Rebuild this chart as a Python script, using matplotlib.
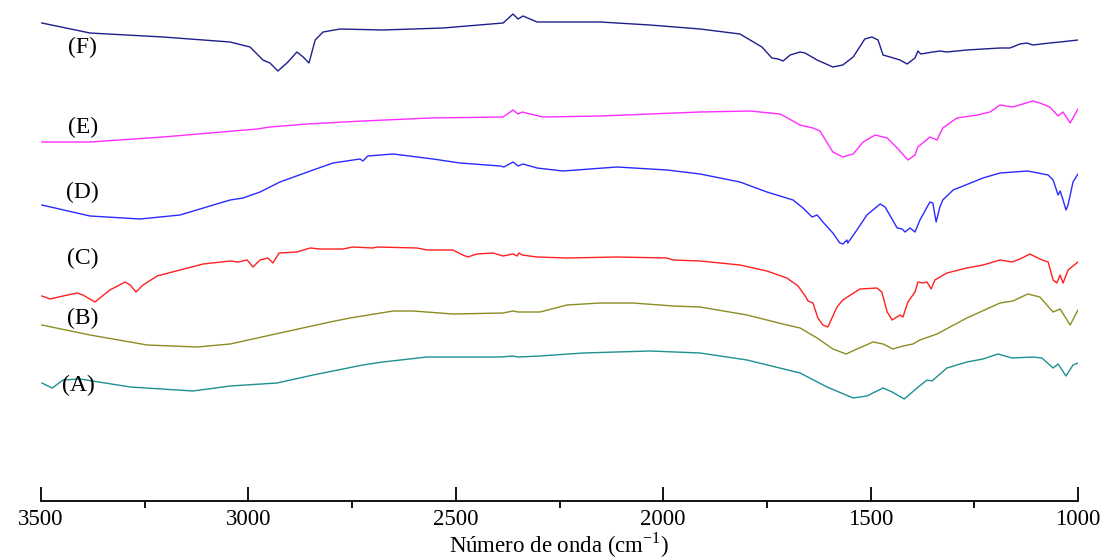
import matplotlib
matplotlib.use("Agg")
import matplotlib.pyplot as plt
from matplotlib.ticker import MultipleLocator

plt.rcParams["font.family"] = ["Liberation Serif", "DejaVu Serif"]
plt.rcParams["mathtext.fontset"] = "custom"
plt.rcParams["mathtext.rm"] = "Liberation Serif"

# FTIR spectra: (wavenumber cm^-1, offset transmittance, arbitrary units)
spec_A = [(3498, 118), (3473, 113), (3447, 121), (3406, 122), (3285, 114), (3134, 110),
          (3044, 115), (2931, 118), (2844, 126), (2724, 136), (2676, 139), (2569, 144),
          (2393, 144), (2362, 145), (2350, 144), (2297, 145), (2193, 148), (2032, 150),
          (1911, 148), (1798, 141), (1670, 128), (1605, 114), (1542, 103), (1509, 105),
          (1470, 113), (1448, 109), (1419, 102), (1388, 113), (1364, 121), (1352, 120),
          (1316, 133), (1268, 139), (1229, 142), (1193, 147), (1159, 143), (1109, 144),
          (1087, 143), (1060, 133), (1048, 137), (1029, 125), (1012, 136), (1000, 138)]

spec_B = [(3498, 176), (3382, 166), (3244, 156), (3124, 154), (3044, 157), (2924, 168),
          (2803, 179), (2755, 183), (2651, 190), (2603, 190), (2507, 187), (2386, 188),
          (2362, 190), (2350, 189), (2297, 189), (2232, 196), (2152, 198), (2073, 198),
          (1976, 195), (1911, 194), (1798, 186), (1702, 176), (1670, 173), (1629, 163),
          (1591, 152), (1559, 147), (1533, 152), (1494, 159), (1470, 157), (1446, 152),
          (1422, 155), (1398, 157), (1381, 161), (1340, 167), (1268, 183), (1188, 198),
          (1157, 200), (1121, 207), (1092, 204), (1060, 189), (1043, 192), (1019, 176),
          (1000, 191)]

spec_C = [(3498, 205), (3478, 202), (3447, 205), (3413, 208), (3399, 206), (3370, 199),
          (3334, 211), (3297, 219), (3285, 216), (3271, 209), (3254, 216), (3220, 225),
          (3165, 231), (3109, 237), (3044, 240), (3025, 239), (3003, 241), (2989, 234),
          (2972, 241), (2953, 243), (2941, 238), (2926, 248), (2883, 249), (2851, 253),
          (2827, 252), (2772, 252), (2748, 254), (2700, 253), (2690, 254), (2594, 253),
          (2569, 251), (2507, 251), (2483, 246), (2471, 244), (2449, 247), (2410, 248),
          (2386, 245), (2362, 247), (2352, 245), (2348, 248), (2340, 246), (2304, 244),
          (2232, 243), (2111, 244), (1991, 243), (1976, 241), (1911, 240), (1815, 236),
          (1750, 230), (1702, 223), (1675, 215), (1656, 204), (1651, 200), (1639, 198),
          (1627, 183), (1615, 176), (1603, 174), (1581, 194), (1567, 201), (1526, 212),
          (1485, 213), (1473, 209), (1460, 189), (1448, 181), (1429, 186), (1422, 184),
          (1410, 199), (1393, 209), (1386, 219), (1374, 218), (1364, 219), (1354, 212),
          (1345, 221), (1316, 228), (1268, 233), (1229, 236), (1188, 241), (1159, 239),
          (1140, 242), (1116, 247), (1092, 242), (1072, 239), (1060, 221), (1051, 218),
          (1043, 226), (1036, 218), (1024, 231), (1000, 239)]

spec_D = [(3498, 296), (3382, 285), (3261, 282), (3165, 286), (3044, 301), (3013, 303),
          (2972, 309), (2924, 319), (2844, 331), (2796, 338), (2731, 342), (2724, 340),
          (2712, 345), (2651, 347), (2555, 342), (2490, 338), (2393, 335), (2384, 334),
          (2362, 339), (2350, 335), (2338, 337), (2304, 333), (2242, 330), (2111, 334),
          (1991, 331), (1911, 327), (1815, 319), (1750, 309), (1687, 301), (1663, 293),
          (1641, 284), (1629, 286), (1615, 279), (1591, 268), (1574, 258), (1567, 257),
          (1557, 261), (1555, 258), (1533, 271), (1509, 286), (1477, 297), (1465, 294),
          (1436, 273), (1424, 272), (1417, 269), (1405, 273), (1393, 269), (1381, 281),
          (1357, 299), (1350, 298), (1342, 279), (1333, 294), (1326, 301), (1301, 311),
          (1229, 323), (1188, 328), (1121, 330), (1072, 326), (1060, 321), (1048, 306),
          (1043, 310), (1036, 301), (1029, 291), (1024, 296), (1012, 319), (1000, 327)]

spec_E = [(3498, 359), (3382, 359), (3206, 364), (2979, 372), (2948, 374), (2859, 377),
          (2724, 380), (2562, 383), (2386, 384), (2362, 391), (2350, 387), (2340, 389),
          (2321, 387), (2290, 384), (2152, 385), (1911, 389), (1791, 390), (1718, 387),
          (1670, 376), (1639, 373), (1622, 370), (1591, 349), (1567, 344), (1542, 347),
          (1518, 359), (1489, 366), (1460, 363), (1436, 353), (1410, 341), (1393, 346),
          (1386, 354), (1357, 364), (1340, 361), (1326, 373), (1292, 383), (1243, 386),
          (1212, 389), (1188, 396), (1157, 394), (1109, 400), (1092, 398), (1068, 394),
          (1048, 385), (1036, 389), (1019, 378), (1000, 392)]

spec_F = [(3498, 478), (3382, 468), (3206, 464), (3044, 459), (2996, 454), (2965, 441),
          (2948, 438), (2929, 430), (2907, 438), (2883, 449), (2868, 444), (2854, 438),
          (2839, 461), (2820, 469), (2779, 472), (2676, 471), (2531, 473), (2386, 478),
          (2362, 487), (2350, 482), (2338, 485), (2304, 479), (2232, 479), (2152, 479),
          (2032, 476), (1911, 472), (1815, 467), (1762, 454), (1738, 443), (1723, 442),
          (1711, 440), (1694, 446), (1670, 449), (1658, 448), (1629, 441), (1591, 434),
          (1567, 436), (1542, 444), (1514, 462), (1497, 464), (1482, 461), (1470, 446),
          (1453, 444), (1429, 441), (1412, 437), (1393, 443), (1386, 450), (1379, 447),
          (1350, 449), (1333, 450), (1316, 449), (1268, 451), (1188, 453), (1164, 453),
          (1140, 457), (1123, 458), (1109, 456), (1068, 458), (1043, 459), (1000, 461)]

sample_names = ["(A)", "(B)", "(C)", "(D)", "(E)", "(F)"]
line_colors = ["#1f8f8f", "#8c8c22", "#ff2020", "#2a2aff", "#ff2cff", "#1e1e8c"]
label_wn = [3410, 3400, 3400, 3400, 3398, 3399]
label_y = [116, 183, 243, 309, 374, 454]

fig = plt.figure(figsize=(11.1, 5.6), dpi=100)
ax = fig.add_axes([0.03694, 0.10536, 0.93423, 0.89464])

spectra = [spec_A, spec_B, spec_C, spec_D, spec_E, spec_F]
for spec, color in zip(spectra, line_colors):
    wn = [p[0] for p in spec]
    tr = [p[1] for p in spec]
    ax.plot(wn, tr, color=color, lw=1.0, solid_joinstyle="round")

for name, x, y in zip(sample_names, label_wn, label_y):
    ax.text(x, y, name, ha="center", va="center", fontsize=17, color="black")

ax.set_xlim(3500, 1000)
ax.set_ylim(0, 501)

for side in ("left", "right", "top"):
    ax.spines[side].set_visible(False)
ax.spines["bottom"].set_linewidth(1.3)
ax.set_yticks([])

ax.xaxis.set_major_locator(MultipleLocator(500))
ax.xaxis.set_minor_locator(MultipleLocator(250))
ax.tick_params(axis="x", which="major", direction="in", length=10, width=1.3,
               labelsize=16.5, pad=6)
ax.tick_params(axis="x", which="minor", direction="out", length=5, width=1.3)

ax.set_xlabel(r"Número de onda (cm$^{\mathrm{-1}}$)", fontsize=16.5, labelpad=0)

fig.savefig("out.png", dpi=100)
